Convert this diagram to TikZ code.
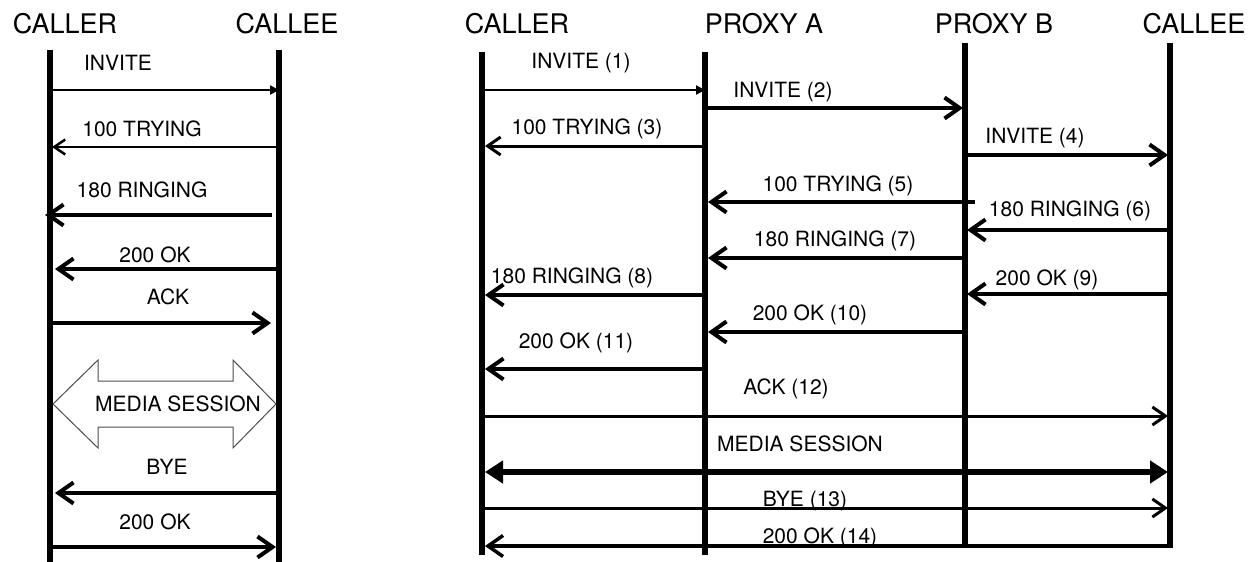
\documentclass[tikz,border=0pt]{standalone}
\usepackage{fontspec}
\setmainfont{TeX Gyre Heros}
\usetikzlibrary{arrows.meta}

\begin{document}
\begin{tikzpicture}[x=1pt, y=-1pt,
  party/.style={font=\fontsize{27}{30}\selectfont, inner sep=0pt},
  lbl/.style={font=\fontsize{21}{24}\selectfont, inner sep=0pt},
  life/.style={line width=6pt},
  msg/.style={line width=4pt, -{Straight Barb[length=15pt,width=21pt]}},
  lightmsg/.style={line width=3pt, -{Straight Barb[length=13pt,width=18pt]}},
  thinmsg/.style={line width=2.5pt, -{Straight Barb[length=11pt,width=15pt]}},
  req/.style={line width=2.5pt, -{Triangle[length=9pt,width=9pt]}},
  media/.style={line width=5.5pt, {Triangle[length=18pt,width=22pt]}-{Triangle[length=18pt,width=22pt]}}]

\useasboundingbox (0,0) rectangle (1258,562);

% direct call: parties and lifelines
\node[party] (lcaller) at (65,24)  {CALLER};
\node[party] (lcallee) at (287,24) {CALLEE};
\coordinate (lcr)  at (50,50);
\coordinate (lcrb) at (50,562);
\coordinate (lce)  at (279,50);
\coordinate (lceb) at (279,562);
\draw[life] (lcr) -- (lcrb);
\draw[life] (lce) -- (lceb);

% direct call: messages
\node[lbl] (l1) at (118,63)  {INVITE};
\draw[req] (lcr |- 0,90) -- (lce |- 0,90);
\node[lbl] (l2) at (142,129) {100 TRYING};
\draw[thinmsg] (lce |- 0,147) -- ([xshift=2pt]lcr |- 0,147);
\node[lbl] (l3) at (142,190) {180 RINGING};
\draw[msg] ([xshift=-7pt]lce |- 0,215) -- ([xshift=-5pt]lcr |- 0,215);
\node[lbl] (l4) at (155,255) {200 OK};
\draw[msg] (lce |- 0,269) -- ([xshift=5pt]lcr |- 0,269);
\node[lbl] (l5) at (168,297) {ACK};
\draw[msg] (lcr |- 0,323) -- ([xshift=-8pt]lce |- 0,323);

% media session as an outlined double arrow
\draw[gray!60!black, line width=1pt]
  (53,404) -- (98,360) -- (98,381) -- (233,381) -- (233,360) -- (276,404)
  -- (233,448) -- (233,427) -- (98,427) -- (98,448) -- cycle;
\node[lbl] (l6) at (178,404) {MEDIA SESSION};

\node[lbl] (l7) at (167,467) {BYE};
\draw[msg] (lce |- 0,493) -- ([xshift=5pt]lcr |- 0,493);
\node[lbl] (l8) at (155,522) {200 OK};
\draw[msg] (lcr |- 0,547) -- ([xshift=-3pt]lce |- 0,547);

% call through two proxies: parties and lifelines
\node[party] (rcaller) at (517,24)  {CALLER};
\node[party] (rproxya) at (764,24)  {PROXY A};
\node[party] (rproxyb) at (994,24)  {PROXY B};
\node[party] (rcallee) at (1194,24) {CALLEE};
\coordinate (rcr)  at (482,52);
\coordinate (rcrb) at (482,555);
\coordinate (rpa)  at (705,52);
\coordinate (rpab) at (705,555);
\coordinate (rpb)  at (965,43);
\coordinate (rpbb) at (965,546);
\coordinate (rce)  at (1170,43);
\coordinate (rceb) at (1170,548);
\draw[life] (rcr) -- (rcrb);
\draw[life] (rpa) -- (rpab);
\draw[life] (rpb) -- (rpbb);
\draw[life] (rce) -- (rceb);

% call through two proxies: messages
\node[lbl] (r1) at (581,63) {INVITE (1)};
\draw[req] (rcr |- 0,90) -- (rpa |- 0,90);
\node[lbl] (r2) at (783,92) {INVITE (2)};
\draw[msg] (rpa |- 0,108) -- ([xshift=-2pt]rpb |- 0,108);
\node[lbl] (r3) at (587,129) {100 TRYING (3)};
\draw[lightmsg] (rpa |- 0,146) -- ([xshift=3pt]rcr |- 0,146);
\node[lbl] (r4) at (1035,138) {INVITE (4)};
\draw[msg] (rpb |- 0,155) -- ([xshift=-2pt]rce |- 0,155);
\node[lbl] (r5) at (838,186) {100 TRYING (5)};
\draw[msg] ([xshift=10pt]rpb |- 0,202) -- ([xshift=3pt]rpa |- 0,202);
\node[lbl] (r6) at (1070,211) {180 RINGING (6)};
\draw[msg] (rce |- 0,230) -- ([xshift=2pt]rpb |- 0,230);
\node[lbl] (r7) at (835,241) {180 RINGING (7)};
\draw[msg] (rpb |- 0,258) -- ([xshift=3pt]rpa |- 0,258);
\node[lbl] (r8) at (572,278) {180 RINGING (8)};
\draw[msg] (rpa |- 0,295) -- ([xshift=3pt]rcr |- 0,295);
\node[lbl] (r9) at (1047,280) {200 OK (9)};
\draw[msg] (rce |- 0,294) -- ([xshift=2pt]rpb |- 0,294);
\node[lbl] (r10) at (810,315) {200 OK (10)};
\draw[msg] (rpb |- 0,332) -- ([xshift=3pt]rpa |- 0,332);
\node[lbl] (r11) at (576,343) {200 OK (11)};
\draw[msg] (rpa |- 0,369) -- ([xshift=3pt]rcr |- 0,369);
\node[lbl] (r12) at (786,389) {ACK (12)};
\draw[lightmsg] (rcr |- 0,416) -- ([xshift=-2pt]rce |- 0,416);
\node[lbl] (r13) at (800,444) {MEDIA SESSION};
\draw[media] ([xshift=3pt]rcr |- 0,472) -- ([xshift=-2pt]rce |- 0,472);
\node[lbl] (r14) at (805,501) {BYE (13)};
\draw[lightmsg] (rcr |- 0,508) -- ([xshift=-2pt]rce |- 0,508);
\node[lbl] (r15) at (820,538) {200 OK (14)};
\draw[msg, line width=3.5pt] (rceb |- 0,546) -- ([xshift=3pt]rcr |- 0,546);

\end{tikzpicture}
\end{document}
